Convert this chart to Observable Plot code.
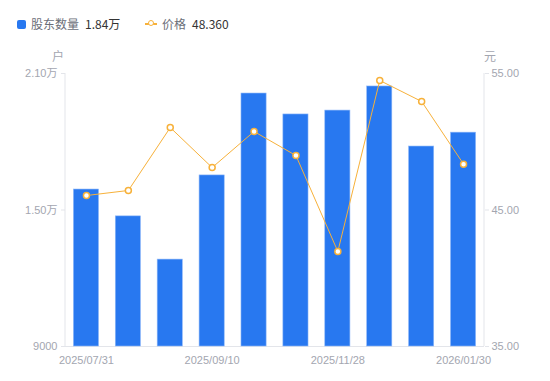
<!DOCTYPE html>
<html>
<head>
<meta charset="utf-8">
<script src="https://cdn.jsdelivr.net/npm/d3@7"></script>
<script src="https://cdn.jsdelivr.net/npm/@observablehq/plot@0.6"></script>
<style>
  html, body { margin: 0; padding: 0; background: #fff; }
  body { width: 550px; height: 381px; overflow: hidden; font-family: "Noto Sans CJK SC", "Liberation Sans", sans-serif; }
  #legend { height: 40px; position: relative; font-size: 12px; }
  #legend span { position: absolute; top: 16px; line-height: 16px; white-space: nowrap; }
  .lab { color: #6b6e78; }
  .val { color: #333; }
</style>
</head>
<body>
<div id="legend">
  <span style="left:17px;top:20px;width:9px;height:9px;background:#2878f0;border-radius:2px;"></span>
  <span class="lab" style="left:31px;">股东数量</span>
  <span class="val" style="left:85px;">1.84万</span>
  <span style="left:145px;top:23px;width:12px;height:2px;background:#f7b13a;"></span>
  <span style="left:148px;top:20px;width:4px;height:4px;border:1.5px solid #f7b13a;border-radius:50%;background:#fff;"></span>
  <span class="lab" style="left:162px;">价格</span>
  <span class="val" style="left:192px;">48.360</span>
</div>
<div id="chart"></div>
<script>
const dates = ["2025/07/31","2025/08/20","2025/08/29","2025/09/10","2025/09/30","2025/10/31","2025/11/28","2025/12/19","2025/12/31","2026/01/30"];
const holders = [15900, 14720, 12820, 16520, 20120, 19200, 19370, 20430, 17790, 18400];
const prices = [46.06, 46.43, 51.04, 48.11, 50.75, 48.99, 41.96, 54.49, 52.95, 48.36];
const shownDates = ["2025/07/31","2025/09/10","2025/11/28","2026/01/30"];
const leftTicks = [9000, 15000, 21000];
const leftTickLabels = ["9000", "1.50万", "2.10万"];
const rightTicks = [35, 45, 55];

const yMin = 9000, yMax = 21000, pMin = 35, pMax = 55;
const toY = p => yMin + (p - pMin) / (pMax - pMin) * (yMax - yMin);
const fromY = y => pMin + (y - yMin) / (yMax - yMin) * (pMax - pMin);

const data = dates.map((d, i) => ({date: d, holders: holders[i], price: prices[i], py: toY(prices[i])}));
const gray = "#a3a6b0";
const lineGray = "#e3e5ea";

const chart = Plot.plot({
  width: 550,
  height: 341,
  marginTop: 33,
  marginBottom: 35,
  marginLeft: 65,
  marginRight: 66,
  style: {fontFamily: "'Liberation Sans', 'Noto Sans CJK SC', sans-serif", fontSize: "11px", background: "#fff"},
  x: {type: "band", domain: dates, paddingInner: 0.4, paddingOuter: 0.2, round: false, label: null},
  y: {domain: [yMin, yMax], label: null},
  marks: [
    Plot.ruleY([yMin], {stroke: lineGray}),
    Plot.barY(data, {x: "date", y1: yMin, y2: "holders", fill: "#2878f0", stroke: "#8fb8f8", strokeWidth: 0.6}),
    Plot.line(data, {x: "date", y: "py", stroke: "#f7b13a", strokeWidth: 1}),
    Plot.dot(data, {x: "date", y: "py", r: 3, fill: "#fff", stroke: "#f7b13a", strokeWidth: 1.5}),
    Plot.axisY({anchor: "left", ticks: leftTicks, tickSize: 4, tickPadding: 4, stroke: lineGray, color: gray,
      tickFormat: v => leftTickLabels[leftTicks.indexOf(v)]}),
    Plot.axisY({anchor: "right", ticks: rightTicks.map(toY), tickSize: 4, tickPadding: 3, stroke: lineGray, color: gray,
      tickFormat: v => fromY(v).toFixed(2)}),
    Plot.axisX({ticks: shownDates, tickSize: 0, tickPadding: 10, color: gray})
  ]
});

const svg = d3.select(chart);
[65, 484].forEach(x => svg.append("line").attr("x1", x).attr("x2", x).attr("y1", 33).attr("y2", 306).attr("stroke", lineGray));
svg.append("text").attr("x", 58).attr("y", 21).attr("text-anchor", "middle").attr("fill", gray).attr("font-size", 12).attr("font-family", "'Noto Sans CJK SC', sans-serif").text("户");
svg.append("text").attr("x", 490).attr("y", 21).attr("text-anchor", "middle").attr("fill", gray).attr("font-size", 12).attr("font-family", "'Noto Sans CJK SC', sans-serif").text("元");
document.getElementById("chart").appendChild(chart);
</script>
</body>
</html>
